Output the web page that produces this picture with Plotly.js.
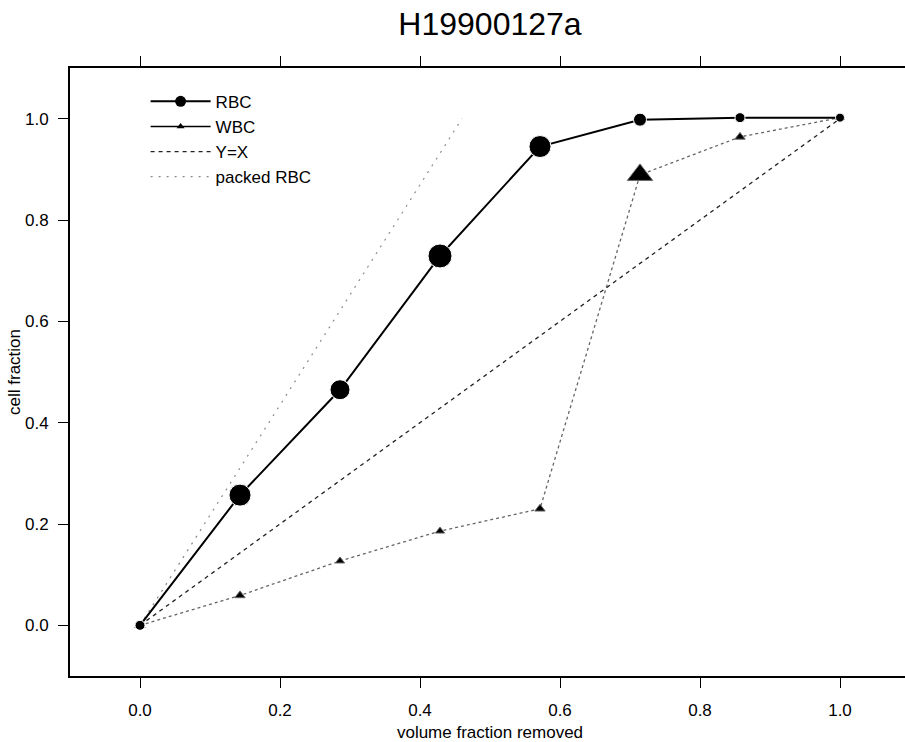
<!DOCTYPE html>
<html>
<head>
<meta charset="utf-8">
<script src="https://cdn.plot.ly/plotly-3.0.1.min.js"></script>
<style>
  html, body { margin: 0; padding: 0; background: #fff; overflow: hidden; width: 905px; height: 742px; }
  #chart { width: 910px; height: 742px; }
</style>
</head>
<body>
<div id="chart"></div>
<script>
// Volume fraction removed at each step (sevenths of the total volume)
var volumeFraction = [0, 1/7, 2/7, 3/7, 4/7, 5/7, 6/7, 1];

// Cumulative cell fractions recovered
var rbcFraction = [0, 0.257, 0.465, 0.729, 0.945, 0.998, 1.002, 1.002];
var wbcFraction = [0, 0.059, 0.127, 0.186, 0.230, 0.889, 0.964, 1.002];

// Marker sizes per sample
var rbcSizes = [10, 22, 20, 24, 22, 13, 10, 9];
var wbcSizes = [9, 9, 8, 8, 9, 22, 9, 8];

// Reference lines
var identityX = [0, 1];
var identityY = [0, 1];
var packedX = [0, 0.46];
var packedY = [0, 1.0];

var tickValues = [0, 0.2, 0.4, 0.6, 0.8, 1.0];
var seriesNames = ['RBC', 'WBC', 'Y=X', 'packed RBC'];

var fontFamily = 'Arial, "Liberation Sans", sans-serif';

var styles = {
  rbcLine: { color: '#000', width: 2 },
  wbcLine: { color: '#666', width: 1.3, dash: 'dot' },
  idLine: { color: '#222', width: 1.3, dash: '4px,4px' },
  packedLine: { color: '#888', width: 1.2, dash: '2px,6px' }
};

var traces = [
  {
    name: seriesNames[3], x: packedX, y: packedY, showlegend: false,
    mode: 'lines', type: 'scatter', line: styles.packedLine
  },
  {
    name: seriesNames[2], x: identityX, y: identityY, showlegend: false,
    mode: 'lines', type: 'scatter', line: styles.idLine
  },
  {
    name: seriesNames[1], x: volumeFraction, y: wbcFraction, showlegend: false,
    mode: 'lines+markers', type: 'scatter', line: styles.wbcLine,
    marker: { symbol: 'triangle-up', color: '#000', size: wbcSizes, opacity: 1 }
  },
  {
    name: seriesNames[0], x: volumeFraction, y: rbcFraction, showlegend: false,
    mode: 'lines+markers', type: 'scatter', line: styles.rbcLine,
    marker: { symbol: 'circle', color: '#000', size: rbcSizes, opacity: 1 }
  },
  // Legend keys with uniform symbol sizes (no points of their own)
  {
    name: seriesNames[0], x: [null], y: [null], mode: 'lines+markers', type: 'scatter',
    line: styles.rbcLine, marker: { symbol: 'circle', color: '#000', size: 11 }
  },
  {
    name: seriesNames[1], x: [null], y: [null], mode: 'lines+markers', type: 'scatter',
    line: { color: '#000', width: 1.5 }, marker: { symbol: 'triangle-up', color: '#000', size: 7 }
  },
  {
    name: seriesNames[2], x: [null], y: [null], mode: 'lines', type: 'scatter',
    line: styles.idLine
  },
  {
    name: seriesNames[3], x: [null], y: [null], mode: 'lines', type: 'scatter',
    line: styles.packedLine
  }
];

var layout = {
  width: 910, height: 742,
  margin: { l: 70, r: 0, t: 68, b: 66 },
  paper_bgcolor: '#fff', plot_bgcolor: '#fff',
  font: { family: fontFamily, color: '#000', size: 17 },
  title: {
    text: 'H19900127a',
    font: { family: fontFamily, size: 32, color: '#000' },
    x: 0.5, xref: 'paper', xanchor: 'center',
    y: 0.968, yref: 'container', yanchor: 'middle'
  },
  xaxis: {
    range: [-0.1, 1.1],
    tickvals: tickValues,
    tickformat: '.1f',
    ticks: 'outside', ticklen: 10, tickwidth: 1, tickcolor: '#000',
    showline: true, linecolor: '#000', linewidth: 2,
    mirror: 'ticks',
    showgrid: false, zeroline: false,
    ticklabelstandoff: 8,
    tickfont: { size: 17 },
    title: { text: 'volume fraction removed', font: { size: 17 } }
  },
  yaxis: {
    range: [-0.1, 1.1],
    tickvals: tickValues,
    tickformat: '.1f',
    ticks: 'outside', ticklen: 10, tickwidth: 1, tickcolor: '#000',
    showline: true, linecolor: '#000', linewidth: 2,
    showgrid: false, zeroline: false,
    ticklabelstandoff: 6,
    tickfont: { size: 17 },
    title: { text: 'cell fraction', font: { size: 17 }, standoff: 0 }
  },
  showlegend: true,
  legend: {
    x: 0.09, y: 0.974, xanchor: 'left', yanchor: 'top',
    bgcolor: 'rgba(0,0,0,0)', borderwidth: 0,
    font: { size: 17, family: fontFamily },
    tracegroupgap: 0, itemwidth: 60
  }
};

Plotly.newPlot('chart', traces, layout, { displayModeBar: false, staticPlot: true });
</script>
</body>
</html>
